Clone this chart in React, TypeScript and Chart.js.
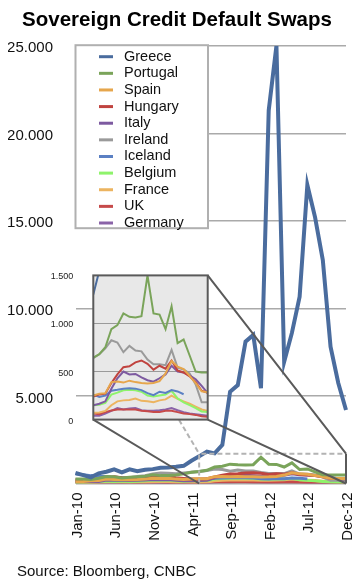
import React, { useEffect, useRef } from 'react';
import { Chart, registerables } from 'chart.js';

Chart.register(...registerables);

const FONT = "'Liberation Sans', Arial, Helvetica, sans-serif";

const MONTHS = [
  'Jan-10', 'Feb-10', 'Mar-10', 'Apr-10', 'May-10', 'Jun-10', 'Jul-10', 'Aug-10', 'Sep-10', 'Oct-10', 'Nov-10', 'Dec-10',
  'Jan-11', 'Feb-11', 'Mar-11', 'Apr-11', 'May-11', 'Jun-11', 'Jul-11', 'Aug-11', 'Sep-11', 'Oct-11', 'Nov-11', 'Dec-11',
  'Jan-12', 'Feb-12', 'Mar-12', 'Apr-12', 'May-12', 'Jun-12', 'Jul-12', 'Aug-12', 'Sep-12', 'Oct-12', 'Nov-12', 'Dec-12',
];

const GREECE = [600, 480, 350, 580, 670, 810, 640, 810, 700, 780, 820, 900, 920, 960, 1010,
  1300, 1550, 1820, 1720, 2200, 5240, 5620, 8100, 8480, 5440, 21300, 25000, 6950, 8600, 10670, 17050, 15200, 12760, 7810, 5740, 4200];
const PORTUGAL = [250, 250, 230, 300, 400, 380, 320, 350, 380, 420, 500, 450, 450, 480, 550,
  644, 681, 753, 940, 983, 1104, 1069, 1063, 1075, 1500, 1104, 1092, 940, 1178, 796, 833, 667, 500, 489, 489, 480];
const SPAIN = [100, 120, 150, 170, 250, 230, 240, 220, 230, 250, 300, 280, 300, 250, 230,
  250, 270, 275, 390, 395, 385, 405, 390, 380, 375, 380, 400, 480, 610, 550, 525, 455, 380, 295, 285, 280];
const HUNGARY = [220, 230, 240, 250, 300, 380, 330, 320, 330, 320, 380, 400, 380, 330, 290,
  240, 262, 270, 380, 470, 545, 555, 595, 615, 580, 520, 560, 530, 615, 510, 490, 450, 390, 300, 280, 270];
const ITALY = [100, 110, 130, 120, 200, 190, 200, 170, 180, 200, 230, 220, 230, 180, 160,
  150, 165, 190, 320, 430, 500, 470, 475, 440, 410, 395, 430, 470, 560, 500, 490, 460, 420, 350, 275, 270];
const IRELAND = [150, 160, 150, 150, 250, 260, 280, 330, 400, 450, 550, 600, 580, 560, 600,
  640, 680, 740, 825, 802, 701, 767, 718, 710, 624, 575, 575, 566, 724, 540, 522, 480, 365, 180, 180, 175];
const ICELAND = [550, 500, 450, 420, 400, 350, 330, 300, 280, 300, 300, 320, 280, 260, 250,
  260, 235, 250, 300, 310, 322, 327, 322, 307, 275, 255, 290, 278, 307, 293, 264, null, null, null, null, null];
const BELGIUM = [60, 70, 80, 100, 140, 120, 140, 120, 130, 160, 200, 180, 200, 160, 130,
  150, 155, 175, 260, 280, 305, 310, 305, 290, 250, 240, 250, 260, 300, 220, 180, 150, 120, 85, 78, 75];
const FRANCE = [40, 50, 60, 70, 90, 80, 90, 70, 80, 90, 100, 110, 110, 90, 80,
  70, 75, 90, 150, 190, 200, 205, 220, 195, 190, 180, 200, 210, 250, 215, 190, 165, 135, 105, 90, 85];
const UK = [85, 90, 85, 80, 90, 80, 75, 65, 60, 65, 70, 65, 60, 60, 60,
  63, 57, 78, 95, 106, 106, 106, 106, 92, 86, 78, 78, 92, 92, 78, 63, 57, 49, 34, 29, 28];
const GERMANY = [25, 30, 35, 40, 50, 45, 40, 35, 35, 45, 55, 55, 60, 50, 45,
  40, 40, 63, 90, 121, 106, 115, 121, 98, 92, 92, 98, 106, 121, 98, 78, 63, 57, 49, 40, 38];

const SERIES = [
  { name: 'Greece', values: GREECE },
  { name: 'Portugal', values: PORTUGAL },
  { name: 'Spain', values: SPAIN },
  { name: 'Hungary', values: HUNGARY },
  { name: 'Italy', values: ITALY },
  { name: 'Ireland', values: IRELAND },
  { name: 'Iceland', values: ICELAND },
  { name: 'Belgium', values: BELGIUM },
  { name: 'France', values: FRANCE },
  { name: 'UK', values: UK },
  { name: 'Germany', values: GERMANY },
];

const COLORS = ['#4a6c9e', '#7aa45a', '#e6a64c', '#c0433f', '#7d5aa0', '#9a9a9a', '#5b80c3', '#8ef36b', '#ecb460', '#c64a4a', '#8a63a8'];

const MAIN_Y_MAX = 25000;
const MAIN_Y_STEP = 5000;
const INSET_Y_MAX = 1500;
const INSET_Y_STEP = 500;
const INSET_FROM = 'Apr-11';
const INSET_TO = 'Nov-12';
const ZOOM_FROM = 'May-11';
const ZOOM_TO = 'Dec-12';
const ZOOM_TOP = 1700;

const INSET_LEFT = 40;
const INSET_TOP = 250;
const INSET_W = 175;
const INSET_H = 195;

const fmt = (v: any) => String(v).replace(/\B(?=(\d{3})+(?!\d))/g, '.');

export default function App() {
  const mainRef = useRef<HTMLCanvasElement>(null);
  const insetRef = useRef<HTMLCanvasElement>(null);

  useEffect(() => {
    document.body.style.margin = '0';
    Chart.defaults.font.family = FONT;

    const i0 = MONTHS.indexOf(INSET_FROM);
    const i1 = MONTHS.indexOf(INSET_TO);

    const insetBox = {
      id: 'insetBox',
      beforeDraw(chart: any) {
        const { ctx, chartArea: a } = chart;
        ctx.save();
        ctx.fillStyle = '#e8e8e8';
        ctx.fillRect(a.left, a.top, a.right - a.left, a.bottom - a.top);
        ctx.restore();
      },
      afterDraw(chart: any) {
        const { ctx, chartArea: a } = chart;
        ctx.save();
        ctx.strokeStyle = '#5a5a5a';
        ctx.lineWidth = 2;
        ctx.strokeRect(a.left, a.top, a.right - a.left, a.bottom - a.top);
        ctx.restore();
      },
    };

    const inset = new Chart(insetRef.current as HTMLCanvasElement, {
      type: 'line',
      data: {
        labels: MONTHS.slice(i0, i1 + 1),
        datasets: SERIES.map((s, n) => ({
          label: s.name,
          data: s.values.slice(i0, i1 + 1),
          borderColor: COLORS[n],
          backgroundColor: COLORS[n],
          borderWidth: 2,
          pointRadius: 0,
          tension: 0,
          fill: false,
          clip: 0,
        })),
      },
      options: {
        responsive: false,
        animation: false,
        layout: { padding: { top: 13.3, right: 7.3, bottom: 7.7, left: 0 } },
        plugins: { legend: { display: false }, tooltip: { enabled: false }, title: { display: false } },
        scales: {
          x: { display: false, offset: false },
          y: {
            min: 0,
            max: INSET_Y_MAX,
            ticks: {
              stepSize: INSET_Y_STEP,
              padding: 20,
              labelOffset: 1.5,
              color: '#222',
              font: { size: 9 },
              callback: (v: any) => fmt(v),
            },
            grid: { color: '#9a9a9a', lineWidth: 1, drawTicks: false },
            border: { display: false },
            afterFit: (s: any) => { s.width = 53.3; },
          },
        },
      },
      plugins: [insetBox],
    } as any);

    const boxLegend = {
      id: 'boxLegend',
      afterDatasetsDraw(chart: any) {
        const { ctx, chartArea: a } = chart;
        const x = a.left;
        const y = a.top - 0.5;
        const w = 132.5;
        const h = 183;
        ctx.save();
        ctx.fillStyle = '#ffffff';
        ctx.fillRect(x, y, w, h);
        ctx.strokeStyle = '#b0b0b0';
        ctx.lineWidth = 2;
        ctx.strokeRect(x, y, w, h);
        ctx.font = `14.5px ${FONT}`;
        ctx.textBaseline = 'middle';
        chart.data.datasets.forEach((ds: any, n: number) => {
          const cy = y + 11.5 + n * 16.63;
          ctx.strokeStyle = ds.borderColor;
          ctx.lineWidth = 3;
          ctx.beginPath();
          ctx.moveTo(x + 23.5, cy);
          ctx.lineTo(x + 37.5, cy);
          ctx.stroke();
          ctx.fillStyle = '#111';
          ctx.fillText(ds.label, x + 48.5, cy);
        });
        ctx.restore();
      },
    };

    const connectors = {
      id: 'zoomConnectors',
      afterDatasetsDraw(chart: any) {
        const ia = inset.chartArea;
        if (!ia) return;
        const L = INSET_LEFT + ia.left;
        const R = INSET_LEFT + ia.right;
        const T = INSET_TOP + ia.top;
        const B = INSET_TOP + ia.bottom;
        const xs = chart.scales.x;
        const ys = chart.scales.y;
        const x1 = xs.getPixelForValue(MONTHS.indexOf(ZOOM_FROM));
        const x2 = xs.getPixelForValue(MONTHS.indexOf(ZOOM_TO));
        const yT = ys.getPixelForValue(ZOOM_TOP);
        const yB = ys.getPixelForValue(0);
        const { ctx } = chart;
        ctx.save();
        ctx.lineWidth = 2;
        ctx.strokeStyle = '#b3b3b3';
        ctx.setLineDash([5, 3]);
        ctx.beginPath();
        ctx.moveTo(x1, yB);
        ctx.lineTo(x1, yT);
        ctx.lineTo(x2, yT);
        ctx.moveTo(L, T);
        ctx.lineTo(x1, yT);
        ctx.stroke();
        ctx.setLineDash([]);
        ctx.strokeStyle = '#5a5a5a';
        ctx.beginPath();
        ctx.moveTo(R, T);
        ctx.lineTo(x2, yT);
        ctx.moveTo(R, B);
        ctx.lineTo(x2, yB);
        ctx.moveTo(L, B);
        ctx.lineTo(x1, yB);
        ctx.moveTo(x2, yT);
        ctx.lineTo(x2, yB);
        ctx.stroke();
        ctx.restore();
      },
    };

    const main = new Chart(mainRef.current as HTMLCanvasElement, {
      type: 'line',
      data: {
        labels: MONTHS,
        datasets: SERIES.map((s, n) => ({
          label: s.name,
          data: s.values,
          borderColor: COLORS[n],
          backgroundColor: COLORS[n],
          borderWidth: n === 0 ? 4 : 3,
          pointRadius: 0,
          tension: 0,
          fill: false,
        })),
      },
      options: {
        responsive: false,
        animation: false,
        layout: { padding: { top: 0, right: 13, bottom: 0, left: 8 } },
        plugins: {
          legend: { display: false },
          tooltip: { enabled: false },
          title: {
            display: true,
            text: 'Sovereign Credit Default Swaps',
            color: '#000',
            font: { size: 20.5, weight: 'bold' },
            padding: { top: 8, bottom: 13.1 },
          },
        },
        scales: {
          x: {
            offset: false,
            grid: { display: false, drawTicks: false },
            border: { display: false },
            ticks: {
              autoSkip: false,
              maxRotation: 90,
              minRotation: 90,
              padding: 9,
              labelOffset: 2,
              color: '#111',
              font: { size: 15 },
              callback: (_v: any, i: number) => (i % 5 === 0 ? MONTHS[i] : ''),
            },
            afterFit: (s: any) => {
              s.height = 100.5;
              s.paddingLeft = 0;
              s.paddingRight = 0;
            },
          },
          y: {
            min: 0,
            max: MAIN_Y_MAX,
            ticks: {
              stepSize: MAIN_Y_STEP,
              padding: 22.5,
              labelOffset: 2.5,
              color: '#111',
              font: { size: 15 },
              callback: (v: any) => (v === 0 ? '' : fmt(v)),
            },
            grid: { color: '#aaaaaa', lineWidth: 1.5, drawTicks: false },
            border: { display: false },
            afterFit: (s: any) => { s.width = 67.5; },
          },
        },
      },
      plugins: [boxLegend, connectors],
    } as any);

    return () => {
      main.destroy();
      inset.destroy();
    };
  }, []);

  return (
    <div style={{ position: 'relative', width: 359, height: 584, fontFamily: FONT }}>
      <canvas ref={mainRef} width={359} height={584} style={{ position: 'absolute', left: 0, top: 0 }} />
      <canvas
        ref={insetRef}
        width={INSET_W}
        height={INSET_H}
        style={{ position: 'absolute', left: INSET_LEFT, top: INSET_TOP }}
      />
      <div style={{ position: 'absolute', left: 17, top: 562, fontSize: 15, color: '#111', whiteSpace: 'nowrap' }}>
        Source: Bloomberg, CNBC
      </div>
    </div>
  );
}
